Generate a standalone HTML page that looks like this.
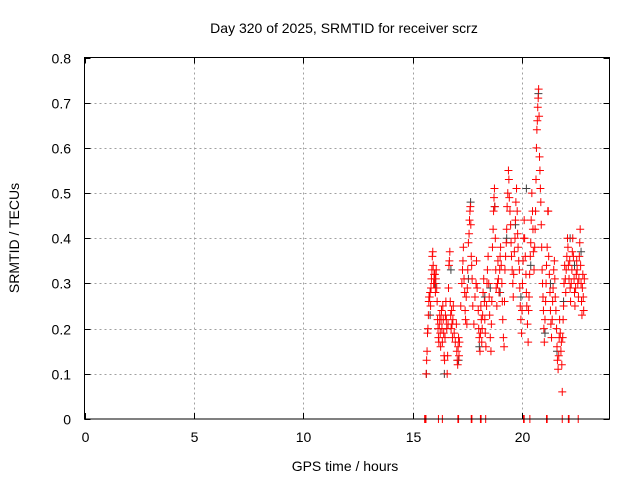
<!DOCTYPE html>
<html><head><meta charset="utf-8"><style>
body{margin:0;background:#fff}
svg{display:block;font-family:"Liberation Sans",sans-serif}
</style></head><body>
<svg id="chart" width="640" height="480">
<text x="344" y="33" font-size="14" text-anchor="middle">Day 320 of 2025, SRMTID for receiver scrz</text>
<text x="345" y="471" font-size="14" text-anchor="middle">GPS time / hours</text>
<text transform="translate(19,238) rotate(-90)" font-size="14" text-anchor="middle">SRMTID / TECUs</text>
<g id="grid"></g>
<g id="ticks"></g>
<g id="gray"></g>
<g id="red"></g>
<rect x="84.5" y="57.5" width="525" height="361.5" fill="none" stroke="#000"/>
</svg>
<script>
const xTicks=[0,5,10,15,20];
const yTicks=[0,0.1,0.2,0.3,0.4,0.5,0.6,0.7,0.8];
const yTickLabels=["0","0.1","0.2","0.3","0.4","0.5","0.6","0.7","0.8"];
const redHours=[15.62,15.64,15.66,15.68,15.70,15.72,15.74,15.75,15.78,15.80,15.82,15.84,15.86,15.88,15.90,15.92,15.94,15.96,15.98,16.00,16.02,16.04,16.06,16.08,16.10,16.12,16.14,16.16,16.18,16.20,16.22,16.24,16.26,16.28,16.30,16.32,16.34,16.36,16.38,16.40,16.42,16.44,16.46,16.48,16.50,16.52,16.54,16.56,16.58,16.60,16.62,16.64,16.66,16.68,16.70,16.72,16.74,16.76,16.78,16.80,16.82,16.84,16.86,16.90,16.95,17.00,17.02,17.04,17.06,17.08,17.10,17.12,17.14,17.20,17.25,17.28,17.30,17.32,17.35,17.38,17.40,17.42,17.45,17.48,17.50,17.52,17.55,17.58,17.60,17.62,17.64,17.66,17.68,17.70,17.72,17.75,17.80,17.85,17.90,17.92,17.95,18.00,18.02,18.05,18.08,18.10,18.12,18.14,18.16,18.18,18.20,18.22,18.25,18.28,18.30,18.32,18.35,18.38,18.40,18.42,18.45,18.48,18.50,18.52,18.55,18.58,18.60,18.62,18.65,18.68,18.70,18.72,18.74,18.76,18.78,18.80,18.82,18.85,18.88,18.90,18.92,18.95,18.98,19.00,19.02,19.05,19.08,19.10,19.12,19.15,19.18,19.20,19.22,19.25,19.28,19.30,19.32,19.35,19.38,19.40,19.42,19.45,19.48,19.50,19.52,19.55,19.58,19.60,19.62,19.65,19.68,19.70,19.72,19.75,19.78,19.80,19.82,19.85,19.88,19.90,19.92,19.95,19.98,20.00,20.02,20.05,20.08,20.10,20.12,20.15,20.18,20.20,20.22,20.25,20.28,20.30,20.32,20.35,20.38,20.40,20.42,20.45,20.48,20.50,20.52,20.55,20.58,20.60,20.62,20.64,20.66,20.68,20.70,20.72,20.74,20.76,20.78,20.80,20.82,20.84,20.86,20.88,20.90,20.92,20.94,20.96,20.98,21.00,21.02,21.05,21.08,21.10,21.12,21.15,21.18,21.20,21.22,21.25,21.28,21.30,21.32,21.35,21.38,21.40,21.42,21.45,21.48,21.50,21.52,21.55,21.58,21.60,21.62,21.65,21.68,21.70,21.72,21.75,21.78,21.80,21.82,21.84,21.86,21.88,21.90,21.92,21.95,21.98,22.00,22.02,22.05,22.08,22.10,22.12,22.15,22.18,22.20,22.22,22.25,22.28,22.30,22.32,22.35,22.38,22.40,22.42,22.45,22.48,22.50,22.52,22.55,22.58,22.60,22.62,22.64,22.66,22.68,22.70,22.72,22.74,22.76,22.78,22.80,22.82,22.85];
const redValues=[.10,.13,.15,.19,.20,.23,.26,.27,.27,.28,.25,.29,.31,.33,.36,.37,.34,.30,.32,.30,.32,.28,.31,.33,.29,.26,.22,.20,.18,.17,.21,.23,.19,.16,.22,.24,.20,.17,.25,.22,.19,.14,.13,.18,.23,.26,.22,.20,.10,.14,.21,.29,.34,.35,.37,.26,.23,.20,.24,.21,.18,.22,.25,.19,.17,.21,.15,.13,.12,.16,.18,.14,.17,.25,.30,.33,.35,.38,.31,.28,.24,.22,.27,.21,.29,.33,.39,.41,.44,.46,.47,.43,.36,.34,.31,.25,.21,.27,.30,.35,.29,.24,.20,.18,.15,.19,.25,.22,.17,.20,.23,.28,.31,.26,.22,.19,.16,.25,.30,.33,.36,.30,.27,.23,.18,.15,.21,.26,.38,.42,.46,.49,.51,.47,.40,.33,.29,.25,.30,.35,.31,.28,.33,.36,.38,.34,.30,.26,.22,.18,.16,.26,.33,.36,.39,.42,.47,.50,.55,.53,.49,.46,.43,.39,.36,.33,.30,.27,.32,.37,.40,.44,.48,.51,.46,.41,.38,.35,.33,.29,.25,.22,.19,.24,.30,.35,.40,.44,.40,.36,.32,.28,.25,.21,.17,.24,.27,.32,.36,.39,.44,.50,.46,.42,.37,.33,.38,.42,.46,.53,.60,.64,.66,.69,.71,.73,.67,.58,.55,.51,.48,.43,.38,.33,.30,.27,.24,.20,.17,.22,.26,.30,.34,.38,.46,.46,.36,.32,.28,.24,.21,.18,.22,.26,.29,.33,.35,.31,.27,.24,.20,.16,.13,.11,.14,.18,.22,.19,.15,.17,.12,.06,.18,.22,.25,.30,.34,.31,.28,.33,.36,.40,.38,.34,.31,.35,.29,.26,.30,.33,.37,.40,.36,.31,.28,.25,.29,.32,.35,.33,.30,.27,.31,.36,.39,.42,.34,.30,.26,.23,.29,.32,.27,.24,.31];
const grayHours=[15.63,15.80,16.05,16.45,16.75,17.10,17.55,17.65,18.05,18.30,18.55,18.75,19.00,19.30,19.70,19.95,20.20,20.40,20.75,21.05,21.30,21.60,21.90,22.20,22.40,22.70];
const grayValues=[.10,.23,.30,.10,.33,.13,.31,.48,.16,.27,.29,.47,.28,.40,.43,.27,.51,.34,.72,.19,.30,.15,.26,.40,.34,.37];
const zeroHours=[15.55,15.58,15.61,16.18,16.36,17.07,17.10,17.68,17.71,18.10,18.13,18.34,20.07,20.10,20.36,21.12,21.15,21.84,22.12,22.15,22.57];

const NS="http://www.w3.org/2000/svg";
const L=84.5,R=609.5,T=57.5,B=419;
const xs=h=>L+h/24*(R-L);
const ys=v=>B-v/0.8*(B-T);
function mk(tag,at,parent){const e=document.createElementNS(NS,tag);for(const k in at)e.setAttribute(k,at[k]);parent.appendChild(e);return e;}
const grid=document.getElementById('grid'),ticks=document.getElementById('ticks');
xTicks.forEach(t=>{const x=Math.round(xs(t))+0.5;
 if(t>0){const g=mk('line',{x1:x,x2:x,y1:T,y2:B,stroke:'#a0a0a0','stroke-dasharray':'2,3'},grid);
 
 }
 const tk=mk('path',{d:`M${x},${B}v-6M${x},${T}v6`,stroke:'#000'},ticks);
 
 
 const lb=mk('text',{x:x,y:442,'font-size':14,'text-anchor':'middle'},ticks);lb.textContent=t;
 
 });
yTicks.forEach((t,i)=>{const y=Math.round(ys(t))+0.5;
 if(i>0&&i<yTicks.length-1){const g=mk('line',{x1:L,x2:R,y1:y,y2:y,stroke:'#a0a0a0','stroke-dasharray':'2,3'},grid);
 
 }
 const tk=mk('path',{d:`M${L},${y}h6M${R},${y}h-6`,stroke:'#000'},ticks);
 
 
 const lb=mk('text',{x:71,y:y+5,'font-size':14,'text-anchor':'end'},ticks);lb.textContent=yTickLabels[i];
 
 });
function plus(g,h,v,c){const x=xs(h),y=ys(v);
 const p=mk('path',{d:`M${x-4},${y}h8M${x},${y-4}v8`,stroke:c,'stroke-width':1},g);
 
 }
const gg=document.getElementById('gray'),rg=document.getElementById('red');
grayHours.forEach((h,i)=>plus(gg,h,grayValues[i],'#404040'));
redHours.forEach((h,i)=>plus(rg,h,redValues[i],'#ff0000'));
zeroHours.forEach(h=>plus(rg,h,0,'#ff0000'));
</script>
</body></html>
